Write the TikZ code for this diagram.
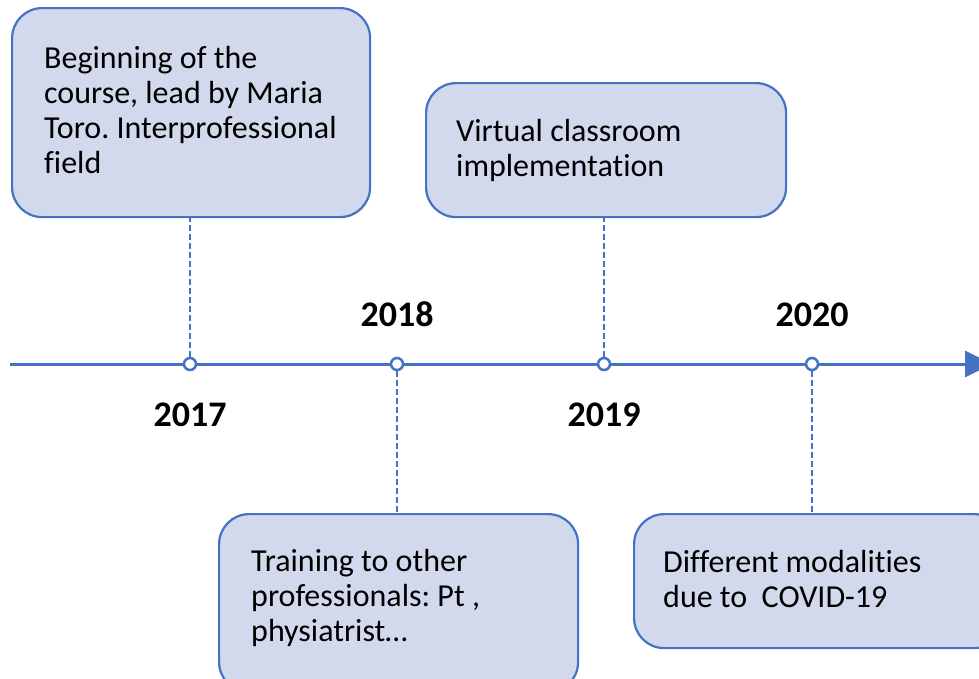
\documentclass[tikz,border=0pt]{standalone}
\usepackage{fontspec}
\setmainfont{Carlito}[Ligatures={CommonOff}]
\usetikzlibrary{positioning,calc,arrows.meta}
\definecolor{lineblue}{RGB}{68,114,196}
\definecolor{cardfill}{RGB}{211,217,236}
\frenchspacing
\tikzset{
  card/.style={draw=lineblue, fill=cardfill, line width=2.2pt, rounded corners=30pt, anchor=north west, inner sep=0pt},
  note/.style={anchor=north west, inner sep=0pt, align=left, font=\fontsize{32}{35}\selectfont},
  year/.style={anchor=base, inner sep=0pt, font=\fontsize{36}{40}\selectfont\bfseries},
  tick/.style={circle, draw=lineblue, fill=white, line width=2.5pt, minimum size=12pt, inner sep=0pt},
  stem/.style={draw=lineblue, line width=1.2pt, dash pattern=on 6pt off 3pt},
}
\begin{document}
\begin{tikzpicture}[x=1pt,y=-1pt]
			\useasboundingbox (0,0) rectangle (979,678);
			\clip (0,0) rectangle (979,678);
			% cards
			\node[card, minimum width=358pt, minimum height=209pt] (b17) at (11,7) {};
			\node[card, minimum width=360pt, minimum height=134pt] (b19) at (425,82) {};
			\node[card, minimum width=359pt, minimum height=178pt] (b18) at (218,513) {};
			\node[card, minimum width=370pt, minimum height=134pt] (b20) at (633,513) {};
			\node[note] (n17) at ($(b17.north west)+(33,36.5)$) {\strut Beginning of the\\ course, lead by Maria\\ Toro. Interprofessional\\ field};
			\node[note] (n19) at ($(b19.north west)+(31,34.5)$) {\strut Virtual classroom\\ implementation};
			\node[note] (n18) at ($(b18.north west)+(33,33.5)$) {\strut Training to other\\ professionals: Pt ,\\ physiatrist…};
			\node[note] (n20) at ($(b20.north west)+(30,34.5)$) {\strut Different modalities\\ due to\ \ COVID-19};
			% time line
			\coordinate (start) at (10,364);
			\coordinate (end) at (992,364);
			\draw[lineblue, line width=3pt, -{Triangle[length=27pt,width=26pt]}] (start) -- (end);
			\node[tick] (t17) at (190,364) {};
			\node[tick] (t18) at (397,364) {};
			\node[tick] (t19) at (604,364) {};
			\node[tick] (t20) at (812,364) {};
			\draw[stem] (t17.north) -- (t17 |- b17.south);
			\draw[stem] (t19.north) -- (t19 |- b19.south);
			\draw[stem] (t18.south) -- (t18 |- b18.north);
			\draw[stem] (t20.south) -- (t20 |- b20.north);
			% years
			\node[year] (y17) at (190,426) {2017};
			\node[year] (y18) at (397,326) {2018};
			\node[year] (y19) at (604,426) {2019};
			\node[year] (y20) at (812,326) {2020};
		\end{tikzpicture}
\end{document}
